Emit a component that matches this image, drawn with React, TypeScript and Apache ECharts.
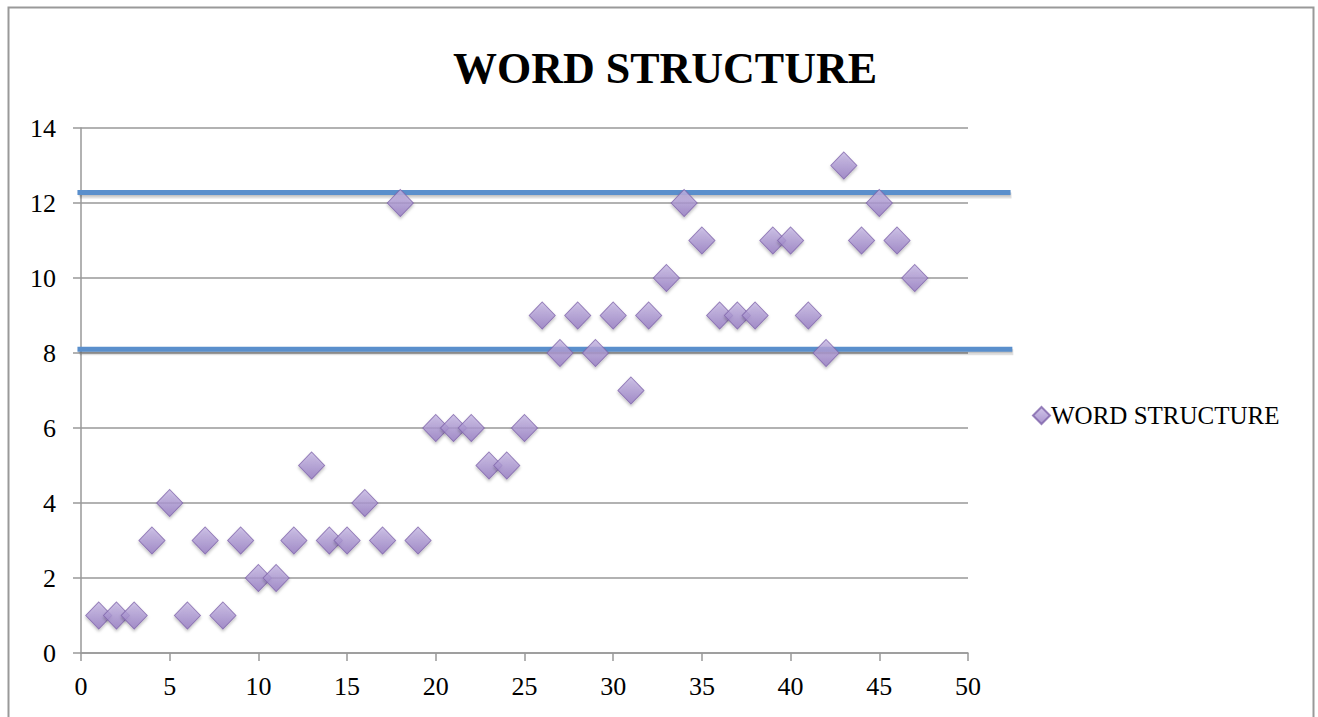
import React, { useEffect, useRef } from "react";
import * as echarts from "echarts";

const xValues = [1,2,3,4,5,6,7,8,9,10,11,12,13,14,15,16,17,18,19,20,21,22,23,24,25,26,27,28,29,30,31,32,33,34,35,36,37,38,39,40,41,42,43,44,45,46,47];
const yValues = [1,1,1,3,4,1,3,1,3,2,2,3,5,3,3,4,3,12,3,6,6,6,5,5,6,9,8,9,8,9,7,9,10,12,11,9,9,9,11,11,9,8,13,11,12,11,10];
// [xStart, xEnd, level]
const refLines = [
  [-0.2, 52.4, 12.28],
  [-0.2, 52.5, 8.1],
];
const seriesName = "WORD STRUCTURE";
const titleText = "WORD STRUCTURE";

const FONT = "'Liberation Serif', 'DejaVu Serif', serif";
const AXIS_GRAY = "#999999";

export default function App() {
  const ref = useRef<HTMLDivElement>(null);
  useEffect(() => {
    document.body.style.margin = "0";
    const chart = echarts.init(ref.current!, null, { renderer: "svg" });
    const purple = new echarts.graphic.LinearGradient(0, 0, 0, 1, [
      { offset: 0, color: "#c6b8e4" },
      { offset: 1, color: "#9479c2" },
    ]);
    chart.setOption({
      animation: false,
      backgroundColor: "#fff",
      textStyle: { fontFamily: FONT },
      title: {
        text: titleText,
        left: 660,
        textAlign: "center",
        top: 41,
        textStyle: { fontFamily: FONT, fontWeight: "bold", fontSize: 44, color: "#000" },
      },
      graphic: [
        {
          type: "rect",
          shape: { x: 8.5, y: 7.5, width: 1305, height: 730 },
          style: { fill: "none", stroke: "#999", lineWidth: 2 },
          silent: true,
        },
      ],
      legend: {
        left: 1027,
        top: 398,
        itemWidth: 17,
        itemHeight: 17,
        itemGap: 6,
        data: [{ name: seriesName, icon: "diamond" }],
        textStyle: { fontFamily: FONT, fontSize: 25, color: "#000", padding: [0, 0, 0, -4] },
      },
      grid: { left: 81, right: 350, top: 128, bottom: 64, containLabel: false },
      xAxis: {
        type: "value",
        min: 0,
        max: 50,
        interval: 5,
        axisLine: { show: true, lineStyle: { color: AXIS_GRAY, width: 1.5 } },
        axisTick: { show: true, length: 8, lineStyle: { color: AXIS_GRAY, width: 1.5 } },
        splitLine: { show: false },
        axisLabel: { fontFamily: FONT, fontSize: 26, color: "#000", margin: 20 },
      },
      yAxis: {
        type: "value",
        min: 0,
        max: 14,
        interval: 2,
        axisLine: { show: true, lineStyle: { color: AXIS_GRAY, width: 1.5 } },
        axisTick: { show: true, length: 8, lineStyle: { color: AXIS_GRAY, width: 1.5 } },
        splitLine: { show: true, lineStyle: { color: AXIS_GRAY, width: 1.5 } },
        axisLabel: { fontFamily: FONT, fontSize: 26, color: "#000", margin: 25 },
      },
      series: [
        {
          type: "custom",
          silent: true,
          clip: false,
          z: 1,
          data: refLines,
          encode: { x: [0, 1], y: 2 },
          renderItem: (params: any, api: any) => {
            const a = api.coord([api.value(0), api.value(2)]);
            const b = api.coord([api.value(1), api.value(2)]);
            return {
              type: "group",
              children: [
                {
                  type: "line",
                  shape: { x1: a[0] + 2, y1: a[1] + 3, x2: b[0] + 1, y2: b[1] + 3 },
                  style: { stroke: "rgba(0,0,0,0.12)", lineWidth: 6 },
                },
                {
                  type: "line",
                  shape: { x1: a[0] + 1, y1: a[1] + 1.5, x2: b[0], y2: b[1] + 1.5 },
                  style: { stroke: "rgba(0,0,0,0.12)", lineWidth: 5 },
                },
                {
                  type: "line",
                  shape: { x1: a[0], y1: a[1], x2: b[0], y2: b[1] },
                  style: { stroke: "#5a8fcc", lineWidth: 5 },
                },
              ],
            };
          },
        },
        {
          name: seriesName,
          type: "scatter",
          symbol: "diamond",
          symbolSize: [26, 27],
          z: 3,
          data: xValues.map((x, i) => [x, yValues[i]]),
          itemStyle: {
            color: purple,
            borderColor: "#7e63aa",
            borderWidth: 1,
            shadowColor: "rgba(0,0,0,0.3)",
            shadowBlur: 3,
            shadowOffsetY: 2,
          },
        },
      ],
    });
    return () => chart.dispose();
  }, []);
  return <div ref={ref} style={{ width: 1318, height: 717 }} />;
}
